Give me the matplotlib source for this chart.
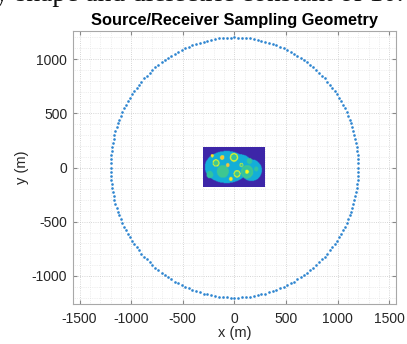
import numpy as np
import matplotlib
matplotlib.use("Agg")
import matplotlib.pyplot as plt
from matplotlib.colors import LinearSegmentedColormap
from matplotlib.ticker import MultipleLocator

plt.rcParams["axes.unicode_minus"] = False

# ---- data ----
n_sources = 200
ring_radius = 1200.0
title = "Source/Receiver Sampling Geometry"
xlabel = "x (m)"
ylabel = "y (m)"
xticks = [-1500, -1000, -500, 0, 500, 1000, 1500]
yticks = [-1000, -500, 0, 500, 1000]
header_text = "y shape and dielectric constant of 10."

# phantom image extent (m)
img_extent = [-300, 300, -180, 180]
# body outline ellipses (u, v in image fraction, from left/top): cx, cy, rx, ry
body_cx = [0.38, 0.78, 0.58]
body_cy = [0.50, 0.58, 0.40]
body_rx = [0.35, 0.17, 0.20]
body_ry = [0.40, 0.27, 0.22]
body_value = 0.42
background_value = 0.0
# inclusions: cx, cy, r (fraction of width), fill value, ring value
inc_cx = [0.32, 0.21, 0.31, 0.50, 0.55, 0.71, 0.75, 0.11, 0.45, 0.15, 0.62, 0.40, 0.86]
inc_cy = [0.61, 0.40, 0.26, 0.26, 0.67, 0.62, 0.35, 0.69, 0.80, 0.22, 0.45, 0.45, 0.55]
inc_r = [0.095, 0.055, 0.035, 0.065, 0.055, 0.10, 0.045, 0.055, 0.03, 0.025, 0.03, 0.03, 0.035]
inc_fill = [0.58, 0.58, 0.85, 0.55, 0.58, 0.55, 0.55, 0.55, 0.95, 0.95, 0.58, 0.85, 0.55]
inc_ring = [0.58, 1.00, 0.95, 1.00, 1.00, 0.58, 0.55, 0.55, 0.95, 0.95, 1.00, 0.85, 0.55]
inc_core = [None, None, None, None, None, 1.00, None, None, None, None, None, None, None]

parula_pts = [(0.2422, 0.1504, 0.6603), (0.2810, 0.3228, 0.9579), (0.1786, 0.5289, 0.9682),
              (0.0689, 0.6948, 0.8394), (0.2161, 0.7843, 0.5923), (0.6720, 0.7793, 0.2227),
              (0.9970, 0.7659, 0.2199), (0.9769, 0.9839, 0.0805)]
parula = LinearSegmentedColormap.from_list("parula", parula_pts)

# ---- build phantom ----
W, H = 120, 72
u = (np.arange(W) + 0.5) / W
v = (np.arange(H) + 0.5) / H
U, V = np.meshgrid(u, v)
aspect = (img_extent[3] - img_extent[2]) / (img_extent[1] - img_extent[0])
img = np.full((H, W), background_value)
mask = np.zeros_like(img, dtype=bool)
for cx, cy, rx, ry in zip(body_cx, body_cy, body_rx, body_ry):
    mask |= ((U - cx) / rx) ** 2 + ((V - cy) / ry) ** 2 <= 1
img[mask] = body_value
for cx, cy, r, f, rg, c in zip(inc_cx, inc_cy, inc_r, inc_fill, inc_ring, inc_core):
    d = np.sqrt((U - cx) ** 2 + ((V - cy) * aspect) ** 2)
    img[d <= r] = rg
    img[d <= r * 0.72] = f
    if c is not None:
        img[d <= r * 0.3] = c

# ---- sources ----
theta = np.linspace(0, 2 * np.pi, n_sources, endpoint=False)
sx = ring_radius * np.cos(theta)
sy = ring_radius * np.sin(theta)

fig = plt.figure(figsize=(4.07, 3.44), dpi=100)
ax = fig.add_axes([0.179, 0.116, 0.794, 0.794])
ax.imshow(img, extent=img_extent, cmap=parula, vmin=0, vmax=1,
          interpolation="bilinear", origin="upper", zorder=2)
ax.plot(sx, sy, linestyle="none", marker="o", markersize=1.9,
        color="#2f86d0", markeredgewidth=0, zorder=3)
ax.set_xlim(-1565, 1565)
ax.set_ylim(-1260, 1260)
ax.set_aspect("auto")
ax.set_xticks(xticks)
ax.set_yticks(yticks)
ax.xaxis.set_minor_locator(MultipleLocator(100))
ax.yaxis.set_minor_locator(MultipleLocator(100))
ax.grid(True, which="major", color="#c8c8c8", linestyle=":", linewidth=0.6, zorder=0)
ax.grid(True, which="minor", color="#e0e0e0", linestyle=":", linewidth=0.5, zorder=0)
ax.set_axisbelow(True)
ax.tick_params(which="both", direction="in", top=True, right=True, color="#888888",
               labelsize=10, labelcolor="#262626", length=3)
ax.tick_params(axis="x", pad=6)
ax.tick_params(axis="y", pad=4)
ax.tick_params(which="minor", length=0)
for sp in ax.spines.values():
    sp.set_color("#a8a8a8")
    sp.set_linewidth(0.8)
fam = ["Liberation Sans", "DejaVu Sans"]
for lbl in ax.get_xticklabels() + ax.get_yticklabels():
    lbl.set_family(fam)
ax.set_xlabel(xlabel, fontsize=10.5, family=fam, color="#262626", labelpad=0)
ax.set_ylabel(ylabel, fontsize=10.5, family=fam, color="#262626", labelpad=2)
ax.set_title(title, fontsize=11.8, fontweight="bold", family=fam, pad=4)
fig.text(-0.012, 0.998, header_text, fontsize=19.8, family=["Liberation Serif", "DejaVu Serif"],
         ha="left", va="baseline", color="#111111")
fig.savefig("out.png", dpi=100)
